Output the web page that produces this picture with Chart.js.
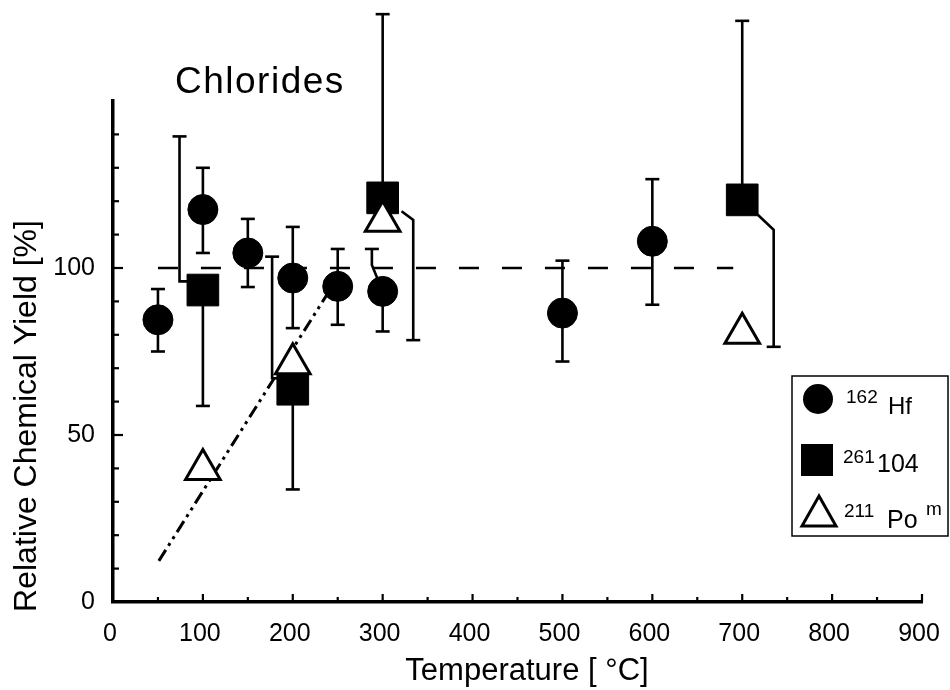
<!DOCTYPE html>
<html><head><meta charset="utf-8">
<script src="https://cdn.jsdelivr.net/npm/chart.js@4.4.1/dist/chart.umd.min.js"></script>
<style>html,body{margin:0;padding:0;background:#fff}#wrap{width:950px;height:690px}</style>
</head><body><div id="wrap"><canvas id="c" width="950" height="690"></canvas></div>
<script>
// ---- data ----
const hfX  = [50, 100, 150, 200, 250, 300, 500, 600];
const hfY  = [84.5, 117.5, 104.5, 97, 94.5, 93, 86.5, 108];
const hfHi = [93.7, 130, 114.7, 112.3, 105.7, 105.7, 102.2, 126.6];
const hfLo = [75, 104.5, 94.3, 82, 83, 81, 72, 89];

const rfX = [100, 200, 300, 700];
const rfY = [93.4, 63.7, 121, 120.4];
// error bars of 261-104 as polylines (first point = capped end)
const rfErrPaths = [
  [[74, 139.4], [74, 96], [100, 96]],
  [[100, 58.7], [100, 93.4]],
  [[177, 103.4], [177, 67], [200, 67]],
  [[200, 33.7], [200, 63.7]],
  [[300, 176], [300, 121]],
  [[334, 78.4], [334, 114.4], [321, 117]],
  [[700, 174], [700, 120.4]],
  [[735, 76.4], [735, 111.4], [717, 116]]
];

const poX = [100, 200, 300, 700];
const poY = [39.7, 71.3, 114, 80.5];

const refLineX = [50, 690];
const refLineY = [100, 100];
const trendX = [51, 245];
const trendY = [12.3, 95];

const xTickLabels = [0, 100, 200, 300, 400, 500, 600, 700, 800, 900];
const yTickLabels = [0, 50, 100];

// ---- build ----
const pts = (xs, ys) => xs.map((v, i) => ({x: v, y: ys[i]}));
const hfErrPaths = [];
hfX.forEach((v, i) => {
  hfErrPaths.push([[v, hfLo[i]], [v, hfY[i]]]);
  hfErrPaths.push([[v, hfHi[i]], [v, hfY[i]]]);
});
hfErrPaths[11] = [[288, 105.7], [288, 100.9], [300, 93]];
const allErrPaths = hfErrPaths.concat(rfErrPaths);

const FONT = '"Liberation Sans", Arial, Helvetica, sans-serif';

const overlay = {
  id: 'overlay',
  beforeDatasetsDraw(chart) {
    const {ctx, scales: {x, y}} = chart;
    ctx.save();
    ctx.strokeStyle = '#000';
    ctx.lineWidth = 2.6;
    allErrPaths.forEach(p => {
      ctx.beginPath();
      p.forEach((q, i) => {
        const px = x.getPixelForValue(q[0]), py = y.getPixelForValue(q[1]);
        if (i) ctx.lineTo(px, py); else ctx.moveTo(px, py);
      });
      ctx.stroke();
      const cx = x.getPixelForValue(p[0][0]), cy = y.getPixelForValue(p[0][1]);
      ctx.beginPath(); ctx.moveTo(cx - 7, cy); ctx.lineTo(cx + 7, cy); ctx.stroke();
    });
    ctx.restore();
  },
  afterDraw(chart) {
    const {ctx, scales: {x, y}, chartArea: a} = chart;
    ctx.save();
    ctx.strokeStyle = '#000';
    ctx.fillStyle = '#000';
    // inward ticks
    ctx.lineWidth = 2.2;
    for (let v = 10; v <= 140; v += 10) {
      const py = y.getPixelForValue(v);
      const len = v % 50 === 0 ? 10 : 6;
      ctx.beginPath(); ctx.moveTo(a.left, py); ctx.lineTo(a.left + len, py); ctx.stroke();
    }
    for (let v = 50; v <= 900; v += 50) {
      const px = x.getPixelForValue(v);
      const len = v % 100 === 0 ? 8 : 5;
      ctx.beginPath(); ctx.moveTo(px, a.bottom); ctx.lineTo(px, a.bottom - len); ctx.stroke();
    }
    // title
    ctx.font = '37px ' + FONT;
    ctx.textBaseline = 'alphabetic';
    ctx.textAlign = 'left';
    try { ctx.letterSpacing = '1.5px'; } catch (e) {}
    ctx.fillText('Chlorides', 175, 93);
    try { ctx.letterSpacing = '0px'; } catch (e) {}
    // y axis title
    ctx.save();
    ctx.translate(36, 416);
    ctx.rotate(-Math.PI / 2);
    ctx.font = '32px ' + FONT;
    ctx.textAlign = 'center';
    ctx.textBaseline = 'alphabetic';
    ctx.fillText('Relative Chemical Yield [%]', 0, 0);
    ctx.restore();
    // x axis title
    ctx.font = '31px ' + FONT;
    ctx.textAlign = 'center';
    ctx.fillText('Temperature [ °C]', 527, 680);
    // legend
    ctx.lineWidth = 1.5;
    ctx.strokeRect(792, 376, 156, 160);
    ctx.beginPath(); ctx.arc(818, 399, 15, 0, Math.PI * 2); ctx.fill();
    ctx.fillRect(801, 444, 32, 32);
    ctx.beginPath();
    ctx.moveTo(819, 496); ctx.lineTo(836, 526); ctx.lineTo(802, 526); ctx.closePath();
    ctx.fillStyle = '#fff'; ctx.fill();
    ctx.lineWidth = 3; ctx.lineJoin = 'miter'; ctx.stroke();
    ctx.fillStyle = '#000';
    ctx.textAlign = 'left';
    ctx.font = '19px ' + FONT; ctx.fillText('162', 846, 403);
    ctx.font = '24px ' + FONT; ctx.fillText('Hf', 888, 414);
    ctx.font = '19px ' + FONT; ctx.fillText('261', 843, 463);
    ctx.font = '25px ' + FONT; ctx.fillText('104', 877, 472);
    ctx.font = '19px ' + FONT; ctx.fillText('211', 844, 517);
    ctx.font = '25px ' + FONT; ctx.fillText('Po', 887, 528);
    ctx.font = '19px ' + FONT; ctx.fillText('m', 926, 515);
    ctx.restore();
  }
};

new Chart(document.getElementById('c'), {
  type: 'scatter',
  data: {
    datasets: [
      {label: '211 Po m', data: pts(poX, poY), pointStyle: 'triangle', pointRadius: 20,
       pointBackgroundColor: '#fff', pointBorderColor: '#000', pointBorderWidth: 3, order: 0, clip: false},
      {label: '261 104', data: pts(rfX, rfY), pointStyle: 'rect', pointRadius: 22.4,
       pointBackgroundColor: '#000', pointBorderColor: '#000', pointBorderWidth: 1, order: 1, clip: false},
      {label: '162 Hf', data: pts(hfX, hfY), pointStyle: 'circle', pointRadius: 15,
       pointBackgroundColor: '#000', pointBorderColor: '#000', pointBorderWidth: 1, order: 2, clip: false},
      {label: 'ref', data: pts(refLineX, refLineY), showLine: true, pointRadius: 0,
       borderColor: '#000', borderWidth: 2.4, borderDash: [20, 23], order: 3, clip: false},
      {label: 'trend', data: pts(trendX, trendY), showLine: true, pointRadius: 0,
       borderColor: '#000', borderWidth: 3, borderDash: [13, 5, 3, 5, 3, 5], order: 4, clip: false}
    ]
  },
  options: {
    responsive: false,
    animation: false,
    devicePixelRatio: 1,
    layout: {padding: {left: 0, right: 28, top: 101, bottom: 0}},
    plugins: {legend: {display: false}, tooltip: {enabled: false}, title: {display: false}},
    scales: {
      x: {
        type: 'linear', min: 0, max: 900,
        afterFit(s) { s.height = 88; s.paddingLeft = 0; s.paddingRight = 0; },
        afterBuildTicks(s) { s.ticks = xTickLabels.map(v => ({value: v})); },
        grid: {display: true, drawOnChartArea: false, drawTicks: false},
        border: {display: true, color: '#000', width: 3.5},
        ticks: {color: '#000', font: {family: FONT, size: 25}, padding: 17, labelOffset: -3, maxRotation: 0, autoSkip: false}
      },
      y: {
        type: 'linear', min: 0, max: 150,
        afterFit(s) { s.width = 113; s.paddingTop = 0; s.paddingBottom = 0; },
        afterBuildTicks(s) { s.ticks = yTickLabels.map(v => ({value: v})); },
        grid: {display: true, drawOnChartArea: false, drawTicks: false},
        border: {display: true, color: '#000', width: 3.5},
        ticks: {color: '#000', font: {family: FONT, size: 25}, padding: 18}
      }
    }
  },
  plugins: [overlay]
});
</script>
</body></html>
